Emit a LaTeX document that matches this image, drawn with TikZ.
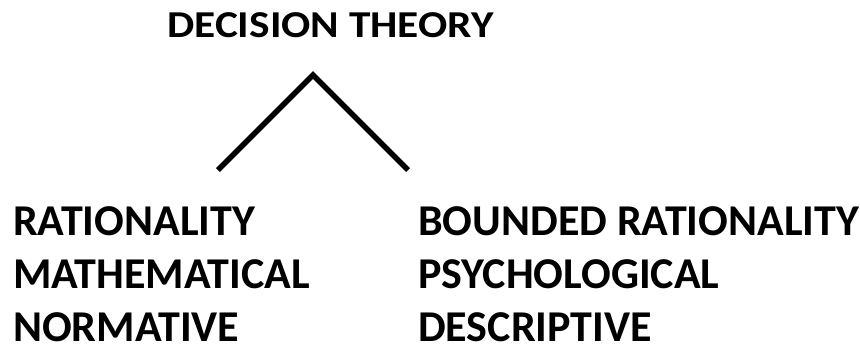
\documentclass[tikz,border=0pt]{standalone}
\usepackage{fontspec}
\setmainfont{Carlito}
\usetikzlibrary{positioning}

\begin{document}
\begin{tikzpicture}[x=1pt,y=-1pt,
  heading/.style={font=\bfseries\fontsize{38}{44}\selectfont,anchor=base west,inner sep=0pt,xscale=1.14},
  item/.style={font=\bfseries\fontsize{44}{50}\selectfont,anchor=base west,inner sep=0pt}]
\useasboundingbox (0,0) rectangle (860,349);
\node[heading] (theory) at (167,37) {DECISION THEORY};

\coordinate (apex) at (313,75);
\coordinate (lft) at (218,170);
\coordinate (rgt) at (408,170);
\draw[line width=5.5pt] (lft) -- (apex) -- (rgt);

% left column
\node[item] (rat) at (13,235) {RATIONALITY};
\node[item] (math) at (13,288) {MATHEMATICAL};
\node[item] (norm) at (13,341) {NORMATIVE};

% right column
\node[item] (brat) at (418,235) {BOUNDED RATIONALITY};
\node[item] (psy) at (418,288) {PSYCHOLOGICAL};
\node[item] (desc) at (418,341) {DESCRIPTIVE};
\end{tikzpicture}
\end{document}
